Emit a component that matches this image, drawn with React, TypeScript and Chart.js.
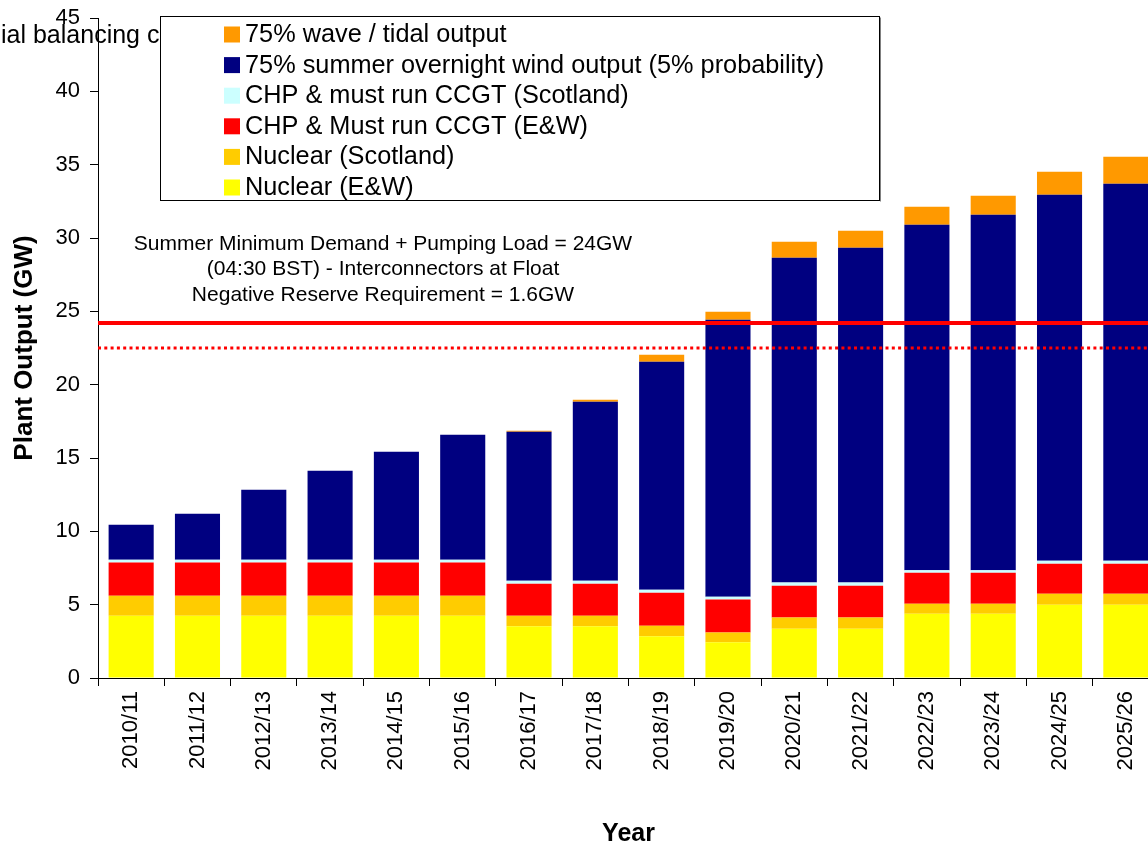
import { useEffect, useRef } from 'react';
import { Chart, registerables } from 'chart.js';

Chart.register(...registerables);

const FONT = "'Liberation Sans', Arial, Helvetica, sans-serif";

const categories = [
  '2010/11', '2011/12', '2012/13', '2013/14', '2014/15', '2015/16', '2016/17', '2017/18',
  '2018/19', '2019/20', '2020/21', '2021/22', '2022/23', '2023/24', '2024/25', '2025/26',
];

const nuclearEW = [4.25, 4.25, 4.25, 4.25, 4.25, 4.25, 3.52, 3.52, 2.84, 2.43, 3.36, 3.36, 4.38, 4.38, 5.0, 5.0];
const nuclearScotland = [1.36, 1.36, 1.36, 1.36, 1.36, 1.36, 0.73, 0.73, 0.73, 0.68, 0.77, 0.77, 0.68, 0.68, 0.75, 0.75];
const chpEW = [2.27, 2.27, 2.27, 2.27, 2.27, 2.27, 2.18, 2.18, 2.24, 2.25, 2.16, 2.16, 2.12, 2.12, 2.04, 2.04];
const chpScotland = [0.18, 0.18, 0.18, 0.18, 0.18, 0.18, 0.2, 0.2, 0.21, 0.18, 0.22, 0.22, 0.17, 0.17, 0.21, 0.21];
const windOutput = [2.39, 3.14, 4.78, 6.07, 7.37, 8.52, 10.16, 12.21, 15.54, 18.88, 22.14, 22.82, 23.55, 24.24, 24.95, 25.7];
const waveTidal = [0, 0, 0, 0, 0, 0, 0.06, 0.14, 0.48, 0.55, 1.09, 1.16, 1.23, 1.29, 1.57, 1.84];

const yTicks = [0, 5, 10, 15, 20, 25, 30, 35, 40, 45];

const demandLevel = 24.2;
const reserveLevel = 22.5;

const noteLines = [
  'Summer Minimum Demand + Pumping Load = 24GW',
  '(04:30 BST) - Interconnectors at Float',
  'Negative Reserve Requirement = 1.6GW',
];

const titleText = 'ial balancing c';

export default function App() {
  const ref = useRef<HTMLCanvasElement>(null);

  useEffect(() => {
    const canvas = ref.current;
    if (!canvas) return;

    const titlePlugin = {
      id: 'titleText',
      beforeDatasetsDraw(chart: any) {
        const ctx = chart.ctx;
        ctx.save();
        ctx.fillStyle = '#000';
        ctx.font = `25px ${FONT}`;
        ctx.textAlign = 'left';
        ctx.textBaseline = 'alphabetic';
        ctx.fillText(titleText, 1, 43);
        ctx.restore();
      },
    };

    const notesPlugin = {
      id: 'notes',
      afterDatasetsDraw(chart: any) {
        const ctx = chart.ctx;
        const { left, right } = chart.chartArea;
        const y = chart.scales.y;
        ctx.save();
        const yd = y.getPixelForValue(demandLevel);
        ctx.strokeStyle = '#FF0000';
        ctx.lineWidth = 4;
        ctx.beginPath();
        ctx.moveTo(left, yd);
        ctx.lineTo(right, yd);
        ctx.stroke();
        const yr = y.getPixelForValue(reserveLevel);
        ctx.lineWidth = 3;
        ctx.setLineDash([3, 3.3]);
        ctx.beginPath();
        ctx.moveTo(left, yr);
        ctx.lineTo(right, yr);
        ctx.stroke();
        ctx.setLineDash([]);
        ctx.fillStyle = '#000';
        ctx.font = `21px ${FONT}`;
        ctx.textAlign = 'center';
        ctx.textBaseline = 'middle';
        const cy = [244, 269.5, 295];
        noteLines.forEach((t, i) => ctx.fillText(t, 383, cy[i]));
        ctx.restore();
      },
    };

    const legendPlugin = {
      id: 'boxLegend',
      afterDraw(chart: any) {
        const ctx = chart.ctx;
        const x0 = 160.5, y0 = 16.5, w = 719, h = 184;
        ctx.save();
        ctx.fillStyle = '#fff';
        ctx.fillRect(x0, y0, w, h);
        ctx.strokeStyle = '#000';
        ctx.lineWidth = 1;
        ctx.strokeRect(x0, y0, w, h);
        ctx.strokeStyle = '#808080';
        ctx.beginPath();
        ctx.moveTo(x0 + w + 1, y0 + 1);
        ctx.lineTo(x0 + w + 1, y0 + h + 1);
        ctx.stroke();
        const ds = chart.data.datasets.slice().reverse();
        ctx.font = `25.3px ${FONT}`;
        ctx.textAlign = 'left';
        ctx.textBaseline = 'middle';
        ds.forEach((d: any, i: number) => {
          const cy = 34.5 + i * 30.6;
          ctx.fillStyle = d.backgroundColor;
          ctx.fillRect(224, cy - 8, 16, 16);
          ctx.fillStyle = '#000';
          ctx.fillText(d.label, 245, cy + 0.5);
        });
        ctx.restore();
      },
    };

    const tickFont = { family: FONT, size: 22 };

    const chart = new Chart(canvas, {
      type: 'bar',
      data: {
        labels: categories,
        datasets: [
          { label: 'Nuclear (E&W)', data: nuclearEW, backgroundColor: '#FFFF00' },
          { label: 'Nuclear (Scotland)', data: nuclearScotland, backgroundColor: '#FFCC00' },
          { label: 'CHP & Must run CCGT (E&W)', data: chpEW, backgroundColor: '#FF0000' },
          { label: 'CHP & must run CCGT (Scotland)', data: chpScotland, backgroundColor: '#CCFFFF' },
          { label: '75% summer overnight wind output (5% probability)', data: windOutput, backgroundColor: '#000080' },
          { label: '75% wave / tidal output', data: waveTidal, backgroundColor: '#FF9900' },
        ],
      },
      options: {
        animation: false,
        responsive: false,
        devicePixelRatio: 1,
        layout: { padding: { top: 18, right: 13, bottom: 0, left: 0 } },
        datasets: {
          bar: { categoryPercentage: 1, barPercentage: 0.68, borderWidth: 0 },
        },
        plugins: {
          legend: { display: false },
          title: { display: false },
          tooltip: { enabled: false },
        },
        scales: {
          x: {
            stacked: true,
            afterFit: (s: any) => {
              s.height = 169;
              s.paddingLeft = 0;
              s.paddingRight = 0;
            },
            grid: { offset: true, drawOnChartArea: false, color: '#000', tickLength: 8 },
            border: { color: '#000', width: 1 },
            ticks: {
              color: '#000',
              font: tickFont,
              minRotation: 90,
              maxRotation: 90,
              autoSkip: false,
              padding: 5,
            },
            title: {
              display: true,
              text: 'Year',
              color: '#000',
              font: { family: FONT, size: 25, weight: 'bold', lineHeight: 1 },
              padding: { top: 0, bottom: 0 },
            },
          },
          y: {
            stacked: true,
            min: 0,
            max: 45,
            afterFit: (s: any) => {
              s.width = 98;
              s.paddingTop = 0;
              s.paddingBottom = 0;
            },
            afterBuildTicks: (s: any) => { s.ticks = yTicks.map((v) => ({ value: v })); },
            grid: { drawOnChartArea: false, color: '#000', tickLength: 8 },
            border: { color: '#000', width: 1 },
            ticks: { color: '#000', font: tickFont, padding: 10 },
            title: {
              display: true,
              text: 'Plant Output (GW)',
              color: '#000',
              font: { family: FONT, size: 26, weight: 'bold', lineHeight: 1.2 },
              padding: { top: 9.4, bottom: 0 },
            },
          },
        },
      },
      plugins: [titlePlugin, notesPlugin, legendPlugin],
    } as any);

    return () => chart.destroy();
  }, []);

  return (
    <div
      style={{
        position: 'fixed',
        left: 0,
        top: 0,
        width: 1148,
        height: 847,
        overflow: 'hidden',
        background: '#fff',
      }}
    >
      <canvas ref={ref} width={1172} height={847} style={{ display: 'block', width: 1172, height: 847 }} />
    </div>
  );
}
